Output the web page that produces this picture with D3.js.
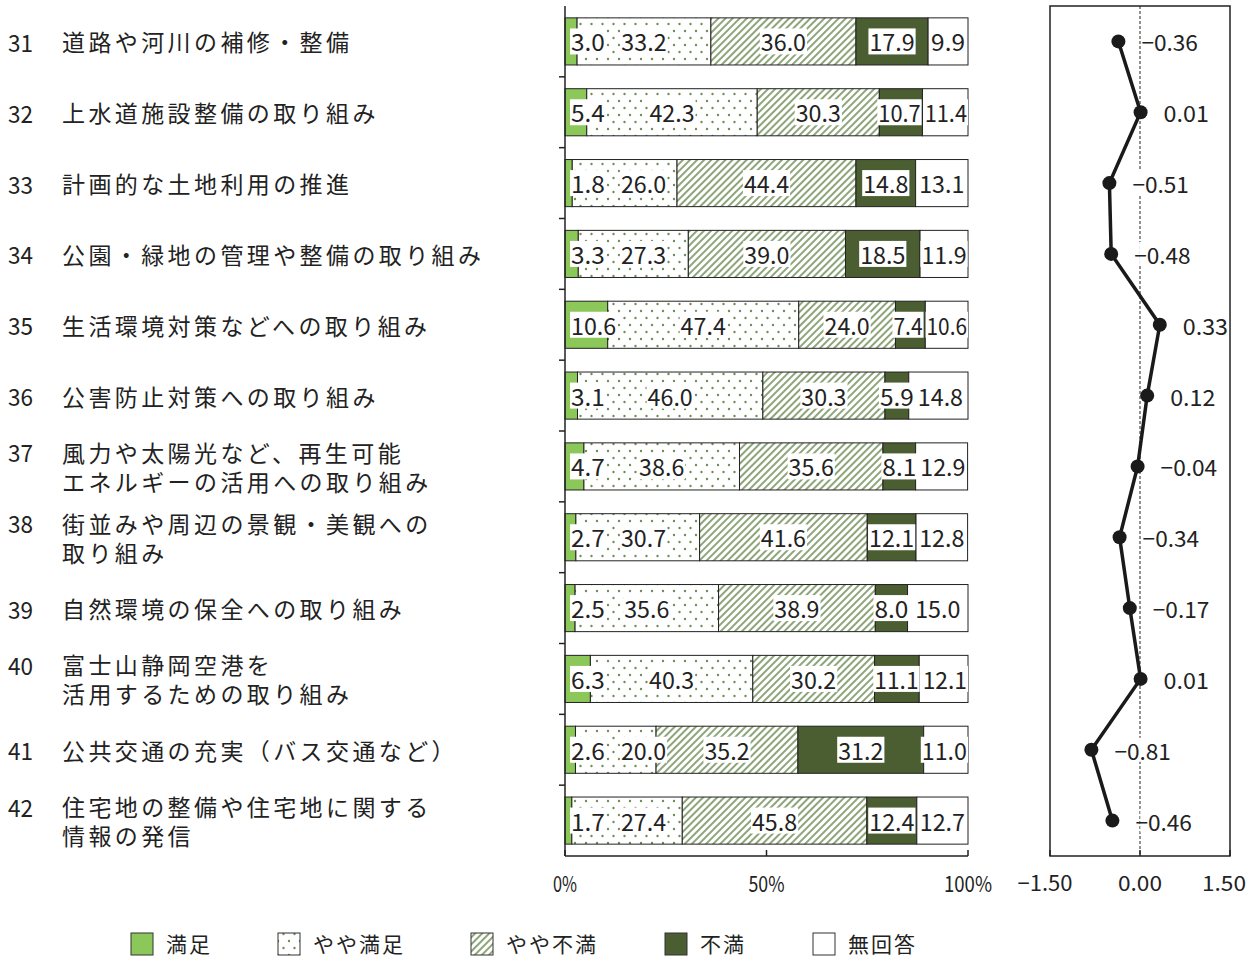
<!DOCTYPE html>
<html><head><meta charset="utf-8">
<script src="https://cdn.jsdelivr.net/npm/d3@7"></script>
<style>
body{margin:0;background:#fff;}
text{font-family:"Noto Sans CJK JP","Noto Sans",sans-serif;fill:#222;}
text.cat{font-family:"Liberation Sans","Noto Sans CJK JP",sans-serif;}
</style></head>
<body>
<svg id="c" width="1254" height="958"></svg>
<script>
const nums = ["31","32","33","34","35","36","37","38","39","40","41","42"];
const labels = [
  ["道路や河川の補修・整備"],
  ["上水道施設整備の取り組み"],
  ["計画的な土地利用の推進"],
  ["公園・緑地の管理や整備の取り組み"],
  ["生活環境対策などへの取り組み"],
  ["公害防止対策への取り組み"],
  ["風力や太陽光など、再生可能","エネルギーの活用への取り組み"],
  ["街並みや周辺の景観・美観への","取り組み"],
  ["自然環境の保全への取り組み"],
  ["富士山静岡空港を","活用するための取り組み"],
  ["公共交通の充実（バス交通など）"],
  ["住宅地の整備や住宅地に関する","情報の発信"]
];
const seriesNames = ["満足","やや満足","やや不満","不満","無回答"];
const manzoku     = [3.0, 5.4, 1.8, 3.3, 10.6, 3.1, 4.7, 2.7, 2.5, 6.3, 2.6, 1.7];
const yayaManzoku = [33.2,42.3,26.0,27.3,47.4,46.0,38.6,30.7,35.6,40.3,20.0,27.4];
const yayaFuman   = [36.0,30.3,44.4,39.0,24.0,30.3,35.6,41.6,38.9,30.2,35.2,45.8];
const fuman       = [17.9,10.7,14.8,18.5,7.4,5.9,8.1,12.1,8.0,11.1,31.2,12.4];
const mukaito     = [9.9,11.4,13.1,11.9,10.6,14.8,12.9,12.8,15.0,12.1,11.0,12.7];
const score       = [-0.36,0.01,-0.51,-0.48,0.33,0.12,-0.04,-0.34,-0.17,0.01,-0.81,-0.46];
const pctTicks = [0,50,100];
const scoreTicks = [-1.5,0,1.5];

const svg = d3.select("#c");
const defs = svg.append("defs");
const pd = defs.append("pattern").attr("id","dots").attr("patternUnits","userSpaceOnUse")
  .attr("width",11).attr("height",14);
pd.append("rect").attr("width",11).attr("height",14).attr("fill","#fff");
pd.append("circle").attr("cx",3).attr("cy",3).attr("r",1.2).attr("fill","#6f8d55");
pd.append("circle").attr("cx",8.5).attr("cy",10).attr("r",1.2).attr("fill","#6f8d55");
const ph = defs.append("pattern").attr("id","hatch").attr("patternUnits","userSpaceOnUse")
  .attr("width",5).attr("height",5).attr("patternTransform","rotate(45)");
ph.append("rect").attr("width",5).attr("height",5).attr("fill","#fff");
ph.append("rect").attr("x",0).attr("y",0).attr("width",2).attr("height",5).attr("fill","#8ea57a");

const fills = ["#8cc75a","url(#dots)","url(#hatch)","#4b5e31","#fff"];

const yTop = 6, yBot = 856;
const y = d3.scaleBand().domain(nums).range([yTop,yBot]).paddingInner(0.335).paddingOuter(0.1675);
const x = d3.scaleLinear().domain([0,100]).range([565,968]);
const xs = d3.scaleLinear().domain([-1.5,1.5]).range([1050,1230]);

function numText(g, str, x0, yc, size, w){
  return g.append("text").attr("x",x0).attr("y",yc)
    .attr("dominant-baseline","central").attr("font-size",size)
    .attr("textLength",w).attr("lengthAdjust","spacingAndGlyphs").text(str);
}

const lab = svg.append("g");
nums.forEach((n,i)=>{
  const cy = y(n)+y.bandwidth()/2;
  const lines = labels[i];
  const off = lines.length===1 ? [0] : [-14.5,14.5];
  numText(lab, n, 8, cy+off[0], 24, 25);
  lines.forEach((l,j)=>{
    lab.append("text").attr("class","cat").attr("font-size",23).attr("letter-spacing",3.4)
      .attr("x",62).attr("y",cy+off[j]+2).attr("dominant-baseline","central").text(l);
  });
});

const table = nums.map((n,i)=>({n, vals:[manzoku[i],yayaManzoku[i],yayaFuman[i],fuman[i],mukaito[i]]}));
const barsG = svg.append("g");
const CH = 11.3;
table.forEach(row=>{
  let cum = 0;
  const segs = row.vals.map((v,k)=>{const s={k,v,x0:cum,x1:cum+v}; cum+=v; return s;});
  const g = barsG.append("g");
  g.selectAll("rect.seg").data(segs).join("rect").attr("class","seg")
    .attr("x",d=>x(d.x0)).attr("width",d=>Math.max(0,x(Math.min(d.x1,100))-x(d.x0)))
    .attr("y",y(row.n)).attr("height",y.bandwidth())
    .attr("fill",d=>fills[d.k]).attr("stroke","#222").attr("stroke-width",1);
  const cy = y(row.n)+y.bandwidth()/2;
  const boxes = segs.map(d=>{
    const s = d3.format(".1f")(d.v);
    const w = s.length*CH;
    const c = (x(d.x0)+x(Math.min(d.x1,100)))/2;
    return {s, l:c-w/2, r:c+w/2};
  });
  boxes.forEach((b,k)=>{
    const minLeft = k===0 ? 571 : boxes[k-1].r + (k===1 ? 16 : 4);
    if (b.l < minLeft){ const sh=minLeft-b.l; b.l+=sh; b.r+=sh; }
  });
  const last = boxes[4];
  if (last.r > 967){ const sh=last.r-967; last.l-=sh; last.r-=sh; }
  for (let k=3;k>=2;k--){
    const a=boxes[k], b=boxes[k+1];
    if (a.r+4 > b.l){
      const ov = a.r+4-b.l;
      a.r -= ov/2; b.l += ov/2;
    }
  }
  boxes.forEach(b=>{
    g.append("rect").attr("x",b.l-1).attr("y",cy-13).attr("width",b.r-b.l+2).attr("height",26).attr("fill","#fff");
  });
  boxes.forEach(b=>{ numText(g, b.s, b.l, cy, 23, b.r-b.l); });
});

const axL = svg.append("g").attr("stroke","#222").attr("stroke-width",1.5);
axL.append("line").attr("x1",565).attr("x2",565).attr("y1",yTop).attr("y2",yBot);
nums.slice(1).forEach(n=>{
  const yy = y(n) - y.step()*y.paddingInner()/2;
  axL.append("line").attr("x1",559).attr("x2",565).attr("y1",yy).attr("y2",yy);
});
axL.append("line").attr("x1",565).attr("x2",968).attr("y1",yBot).attr("y2",yBot);
pctTicks.forEach(t=>{
  axL.append("line").attr("x1",x(t)).attr("x2",x(t)).attr("y1",yBot).attr("y2",yBot-6);
});
const tickG = svg.append("g");
pctTicks.forEach(t=>{
  const s = t+"%"; const w = s.length*12;
  numText(tickG, s, x(t)-w/2, 882, 22, w);
});

const rp = svg.append("g");
rp.append("rect").attr("x",1050).attr("y",yTop).attr("width",180).attr("height",yBot-yTop)
  .attr("fill","none").attr("stroke","#222").attr("stroke-width",1.5);
rp.append("line").attr("x1",xs(0)).attr("x2",xs(0)).attr("y1",yTop).attr("y2",yBot)
  .attr("stroke","#222").attr("stroke-width",1).attr("stroke-dasharray","3,2");
scoreTicks.forEach(t=>{
  rp.append("line").attr("x1",xs(t)).attr("x2",xs(t)).attr("y1",yBot).attr("y2",yBot-6)
    .attr("stroke","#222").attr("stroke-width",1.5);
  const s = (t<0?"−":"")+d3.format(".2f")(Math.abs(t)); const w = s.length*11;
  const cx = t<0 ? xs(t)-5 : (t>0 ? xs(t)-6 : xs(t));
  numText(tickG, s, cx-w/2, 882, 21, w);
});
const pts = nums.map((n,i)=>({x:xs(score[i]),y:y(n)+y.bandwidth()/2,v:score[i]}));
const lblG = rp.append("g");
pts.forEach(d=>{
  const s = (d.v<0?"−":"")+d3.format(".2f")(Math.abs(d.v));
  const w = s.length*11.3;
  lblG.append("rect").attr("x",d.x+28).attr("y",d.y-12).attr("width",w-5).attr("height",24).attr("fill","#fff");
});
pts.forEach(d=>{
  const s = (d.v<0?"−":"")+d3.format(".2f")(Math.abs(d.v));
  numText(lblG, s, d.x+23, d.y, 22, s.length*11.3);
});
rp.append("path").attr("d",d3.line().x(d=>d.x).y(d=>d.y)(pts))
  .attr("fill","none").attr("stroke","#1a1a1a").attr("stroke-width",3.5);
rp.selectAll("circle").data(pts).join("circle").attr("cx",d=>d.x).attr("cy",d=>d.y).attr("r",7)
  .attr("fill","#1a1a1a");

const legX = [131,278,471,665,813];
const lg = svg.append("g");
seriesNames.forEach((s,i)=>{
  lg.append("rect").attr("x",legX[i]).attr("y",933).attr("width",22).attr("height",22)
    .attr("fill",fills[i]).attr("stroke","#333").attr("stroke-width",1);
  lg.append("text").attr("x",legX[i]+35).attr("y",943).attr("dominant-baseline","central")
    .attr("font-size",21).attr("letter-spacing",2).text(s);
});
</script>
</body></html>
